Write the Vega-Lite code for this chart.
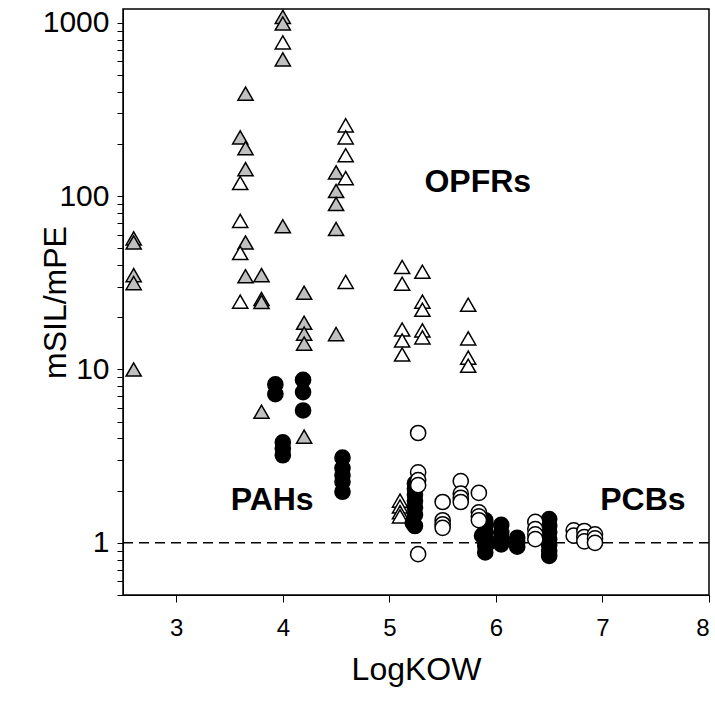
{
  "$schema": "https://vega.github.io/schema/vega-lite/v6.json",
  "width": 586,
  "height": 586,
  "autosize": "none",
  "padding": {"left": 123, "top": 9, "right": 6, "bottom": 108},
  "background": "white",
  "config": {
    "view": {"stroke": "black", "strokeWidth": 1.5},
    "font": "Liberation Sans"
  },
  "datasets": {
    "pts": [
      {"x": 2.6, "y": 57, "g": "gray"},
      {"x": 2.6, "y": 54, "g": "gray"},
      {"x": 2.6, "y": 35, "g": "gray"},
      {"x": 2.6, "y": 31.5, "g": "gray"},
      {"x": 2.6, "y": 10, "g": "gray"},
      {"x": 3.6, "y": 218, "g": "gray"},
      {"x": 3.65, "y": 390, "g": "gray"},
      {"x": 3.65, "y": 189, "g": "gray"},
      {"x": 3.65, "y": 143, "g": "gray"},
      {"x": 3.65, "y": 54, "g": "gray"},
      {"x": 3.65, "y": 34.5, "g": "gray"},
      {"x": 3.8, "y": 35, "g": "gray"},
      {"x": 3.8, "y": 25.5, "g": "gray"},
      {"x": 3.8, "y": 24.5, "g": "gray"},
      {"x": 3.8, "y": 5.7, "g": "gray"},
      {"x": 4.0, "y": 1080, "g": "gray"},
      {"x": 4.0, "y": 990, "g": "gray"},
      {"x": 4.0, "y": 615, "g": "gray"},
      {"x": 4.0, "y": 67, "g": "gray"},
      {"x": 4.2, "y": 27.7, "g": "gray"},
      {"x": 4.2, "y": 18.6, "g": "gray"},
      {"x": 4.2, "y": 16.1, "g": "gray"},
      {"x": 4.2, "y": 14.1, "g": "gray"},
      {"x": 4.2, "y": 4.1, "g": "gray"},
      {"x": 4.5, "y": 137, "g": "gray"},
      {"x": 4.5, "y": 107, "g": "gray"},
      {"x": 4.5, "y": 90, "g": "gray"},
      {"x": 4.5, "y": 64.6, "g": "gray"},
      {"x": 4.5, "y": 16, "g": "gray"},
      {"x": 4.0, "y": 770, "g": "white"},
      {"x": 3.6, "y": 119, "g": "white"},
      {"x": 3.6, "y": 72, "g": "white"},
      {"x": 3.6, "y": 47, "g": "white"},
      {"x": 3.6, "y": 24.6, "g": "white"},
      {"x": 4.59, "y": 256, "g": "white"},
      {"x": 4.59, "y": 218, "g": "white"},
      {"x": 4.59, "y": 172, "g": "white"},
      {"x": 4.59, "y": 127, "g": "white"},
      {"x": 4.59, "y": 32, "g": "white"},
      {"x": 5.12, "y": 39, "g": "white"},
      {"x": 5.12, "y": 31.2, "g": "white"},
      {"x": 5.12, "y": 17, "g": "white"},
      {"x": 5.12, "y": 14.7, "g": "white"},
      {"x": 5.12, "y": 12.2, "g": "white"},
      {"x": 5.31, "y": 36.6, "g": "white"},
      {"x": 5.31, "y": 24.6, "g": "white"},
      {"x": 5.31, "y": 22.1, "g": "white"},
      {"x": 5.31, "y": 16.8, "g": "white"},
      {"x": 5.31, "y": 15.3, "g": "white"},
      {"x": 5.74, "y": 23.6, "g": "white"},
      {"x": 5.74, "y": 15.1, "g": "white"},
      {"x": 5.74, "y": 11.7, "g": "white"},
      {"x": 5.74, "y": 10.5, "g": "white"},
      {"x": 5.1, "y": 1.75, "g": "white"},
      {"x": 5.1, "y": 1.62, "g": "white"},
      {"x": 5.1, "y": 1.5, "g": "white"},
      {"x": 5.1, "y": 1.42, "g": "white"},
      {"x": 3.93, "y": 8.2, "g": "pah"},
      {"x": 3.93, "y": 7.2, "g": "pah"},
      {"x": 4.19, "y": 8.7, "g": "pah"},
      {"x": 4.19, "y": 7.4, "g": "pah"},
      {"x": 4.19, "y": 5.8, "g": "pah"},
      {"x": 4.0, "y": 3.8, "g": "pah"},
      {"x": 4.0, "y": 3.5, "g": "pah"},
      {"x": 4.0, "y": 3.2, "g": "pah"},
      {"x": 4.56, "y": 3.1, "g": "pah"},
      {"x": 4.56, "y": 2.7, "g": "pah"},
      {"x": 4.56, "y": 2.45, "g": "pah"},
      {"x": 4.56, "y": 2.25, "g": "pah"},
      {"x": 4.56, "y": 1.97, "g": "pah"},
      {"x": 5.24, "y": 2.2, "g": "pah"},
      {"x": 5.24, "y": 2.05, "g": "pah"},
      {"x": 5.24, "y": 1.9, "g": "pah"},
      {"x": 5.24, "y": 1.75, "g": "pah"},
      {"x": 5.24, "y": 1.6, "g": "pah"},
      {"x": 5.24, "y": 1.45, "g": "pah"},
      {"x": 5.22, "y": 1.3, "g": "pah"},
      {"x": 5.24, "y": 1.25, "g": "pah"},
      {"x": 5.9, "y": 1.35, "g": "pah"},
      {"x": 5.9, "y": 1.25, "g": "pah"},
      {"x": 5.9, "y": 1.15, "g": "pah"},
      {"x": 5.9, "y": 1.08, "g": "pah"},
      {"x": 5.9, "y": 1.02, "g": "pah"},
      {"x": 5.9, "y": 0.96, "g": "pah"},
      {"x": 5.9, "y": 0.88, "g": "pah"},
      {"x": 5.87, "y": 1.1, "g": "pah"},
      {"x": 5.93, "y": 1.0, "g": "pah"},
      {"x": 6.05, "y": 1.27, "g": "pah"},
      {"x": 6.05, "y": 1.15, "g": "pah"},
      {"x": 6.05, "y": 1.05, "g": "pah"},
      {"x": 6.05, "y": 0.98, "g": "pah"},
      {"x": 6.2, "y": 1.07, "g": "pah"},
      {"x": 6.2, "y": 1.0, "g": "pah"},
      {"x": 6.2, "y": 0.95, "g": "pah"},
      {"x": 6.5, "y": 1.37, "g": "pah"},
      {"x": 6.5, "y": 1.25, "g": "pah"},
      {"x": 6.5, "y": 1.15, "g": "pah"},
      {"x": 6.5, "y": 1.05, "g": "pah"},
      {"x": 6.5, "y": 0.97, "g": "pah"},
      {"x": 6.5, "y": 0.9, "g": "pah"},
      {"x": 6.5, "y": 0.84, "g": "pah"},
      {"x": 5.27, "y": 4.3, "g": "pcb"},
      {"x": 5.27, "y": 2.55, "g": "pcb"},
      {"x": 5.27, "y": 2.3, "g": "pcb"},
      {"x": 5.27, "y": 2.15, "g": "pcb"},
      {"x": 5.27, "y": 0.86, "g": "pcb"},
      {"x": 5.5, "y": 1.72, "g": "pcb"},
      {"x": 5.5, "y": 1.35, "g": "pcb"},
      {"x": 5.5, "y": 1.28, "g": "pcb"},
      {"x": 5.5, "y": 1.22, "g": "pcb"},
      {"x": 5.67, "y": 2.27, "g": "pcb"},
      {"x": 5.67, "y": 1.92, "g": "pcb"},
      {"x": 5.67, "y": 1.82, "g": "pcb"},
      {"x": 5.67, "y": 1.72, "g": "pcb"},
      {"x": 5.84, "y": 1.94, "g": "pcb"},
      {"x": 5.84, "y": 1.5, "g": "pcb"},
      {"x": 5.84, "y": 1.42, "g": "pcb"},
      {"x": 5.84, "y": 1.35, "g": "pcb"},
      {"x": 6.37, "y": 1.32, "g": "pcb"},
      {"x": 6.37, "y": 1.2, "g": "pcb"},
      {"x": 6.37, "y": 1.12, "g": "pcb"},
      {"x": 6.37, "y": 1.05, "g": "pcb"},
      {"x": 6.73, "y": 1.18, "g": "pcb"},
      {"x": 6.73, "y": 1.1, "g": "pcb"},
      {"x": 6.83, "y": 1.17, "g": "pcb"},
      {"x": 6.83, "y": 1.08, "g": "pcb"},
      {"x": 6.83, "y": 1.02, "g": "pcb"},
      {"x": 6.93, "y": 1.12, "g": "pcb"},
      {"x": 6.93, "y": 1.06, "g": "pcb"},
      {"x": 6.93, "y": 1.0, "g": "pcb"}
    ],
    "labels": [
      {"x": 5.83, "y": 121, "t": "OPFRs"},
      {"x": 3.9, "y": 1.77, "t": "PAHs"},
      {"x": 7.38, "y": 1.77, "t": "PCBs"}
    ],
    "ref": [{"v": 1}]
  },
  "layer": [
    {
      "data": {"name": "ref"},
      "mark": {"type": "rule", "strokeDash": [10, 6], "strokeWidth": 1.5, "color": "black"},
      "encoding": {"y": {"field": "v", "type": "quantitative", "scale": {"type": "log", "domain": [0.5, 1200], "nice": false}}}
    },
    {
      "data": {"name": "pts"},
      "mark": {"type": "point", "filled": false, "stroke": "black", "strokeWidth": 1.5, "opacity": 1},
      "encoding": {
        "x": {
          "field": "x", "type": "quantitative",
          "scale": {"domain": [2.5, 8], "nice": false, "zero": false},
          "axis": {"values": [3, 4, 5, 6, 7, 8], "grid": false, "tickSize": 7, "tickColor": "black", "domainColor": "black", "labelFontSize": 24, "labelColor": "black", "labelPadding": 14, "title": "LogKOW", "titleFontSize": 32, "titleFontWeight": "normal", "titleColor": "black", "titlePadding": 14, "format": "d"}
        },
        "y": {
          "field": "y", "type": "quantitative",
          "scale": {"type": "log", "domain": [0.5, 1200], "nice": false},
          "axis": {"values": [0.5, 0.6, 0.7, 0.8, 0.9, 1, 2, 3, 4, 5, 6, 7, 8, 9, 10, 20, 30, 40, 50, 60, 70, 80, 90, 100, 200, 300, 400, 500, 600, 700, 800, 900, 1000],
                   "labelExpr": "indexof([1,10,100,1000], datum.value) >= 0 ? format(datum.value, 'd') : ''",
                   "grid": false, "tickSize": 6, "tickColor": "black", "domainColor": "black", "labelFontSize": 30, "labelColor": "black", "labelPadding": 8,
                   "title": "mSIL/mPE", "titleFontSize": 32, "titleFontWeight": "normal", "titleColor": "black",
                   "titleX": -68, "titleY": 293, "titleAngle": 270, "titleAlign": "center", "titleBaseline": "middle"}
        },
        "shape": {"field": "g", "type": "nominal", "legend": null,
                  "scale": {"domain": ["gray", "white", "pah", "pcb"], "range": ["triangle-up", "triangle-up", "circle", "circle"]}},
        "fill": {"field": "g", "type": "nominal", "legend": null,
                 "scale": {"domain": ["gray", "white", "pah", "pcb"], "range": ["#c0c0c0", "white", "black", "white"]}},
        "size": {"field": "g", "type": "nominal", "legend": null,
                 "scale": {"domain": ["gray", "white", "pah", "pcb"], "range": [230, 230, 160, 160]}}
      }
    },
    {
      "data": {"name": "labels"},
      "mark": {"type": "text", "fontSize": 32, "fontWeight": "bold", "color": "black", "align": "center", "baseline": "middle"},
      "encoding": {
        "x": {"field": "x", "type": "quantitative"},
        "y": {"field": "y", "type": "quantitative"},
        "text": {"field": "t"}
      }
    }
  ]
}
